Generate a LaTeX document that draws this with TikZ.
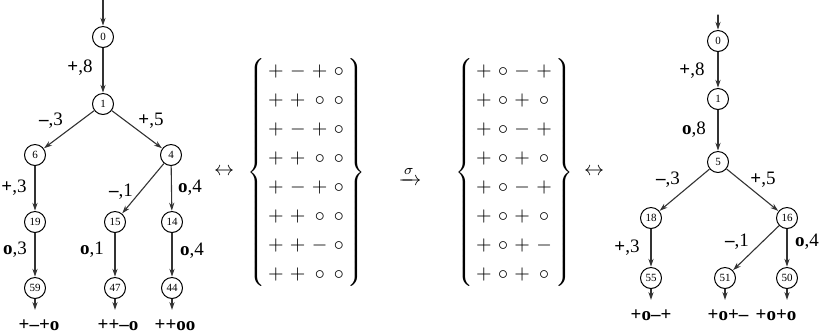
\documentclass[tikz,border=0pt]{standalone}
\usepackage{amsmath,amssymb}
\usepackage{fontspec}
\setmainfont{Liberation Serif}
\usepackage{xcolor}
\usepackage{tikz}
\usetikzlibrary{arrows.meta,positioning}
\definecolor{ink}{HTML}{333333}
\tikzset{
    every picture/.style={line cap=round,line join=round},
    treenode/.style={draw=black,circle,line width=0.5pt,
      minimum size=10.5pt,inner sep=0pt,outer sep=0.4pt,
      font=\fontsize{5.5pt}{6pt}\selectfont},
    flowarrow/.style={-{Stealth[length=4pt,width=2.6pt]},draw=ink,
      line width=0.55pt},
    edgelabel/.style={inner sep=0pt,font=\fontsize{9.5pt}{11pt}\selectfont},
    leaflabel/.style={inner sep=0pt,font=\fontsize{9.5pt}{11pt}\selectfont\bfseries},
    setnode/.style={inner sep=0pt,font=\normalsize}
}
\newcommand{\mns}{\textbf{\textendash}}

\begin{document}
\begin{tikzpicture}[x=0.5pt,y=-0.5pt]
  \useasboundingbox (0,0) rectangle (820,334);
  % left tree
  \coordinate (lin) at (103,0);
  \node[treenode] (l0) at (103,37) {0};
  \node[treenode] (l1) at (103,104) {1};
  \node[treenode] (l6) at (35,155) {6};
  \node[treenode] (l4) at (171,155) {4};
  \node[treenode] (l19) at (35,222) {19};
  \node[treenode] (l15) at (115,222) {15};
  \node[treenode] (l14) at (172,222) {14};
  \node[treenode] (l59) at (35,288) {59};
  \node[treenode] (l47) at (115,288) {47};
  \node[treenode] (l44) at (172,288) {44};
  \coordinate (lout59) at (35,310);
  \coordinate (lout47) at (115,310);
  \coordinate (lout44) at (172,310);
  \draw[flowarrow] (lin)--(l0);
  \draw[flowarrow] (l0)--(l1);
  \draw[flowarrow] (l1)--(l6);
  \draw[flowarrow] (l1)--(l4);
  \draw[flowarrow] (l6)--(l19);
  \draw[flowarrow] (l4)--(l15);
  \draw[flowarrow] (l4)--(l14);
  \draw[flowarrow] (l19)--(l59);
  \draw[flowarrow] (l15)--(l47);
  \draw[flowarrow] (l14)--(l44);
  \draw[flowarrow] (l59)--(lout59);
  \draw[flowarrow] (l47)--(lout47);
  \draw[flowarrow] (l44)--(lout44);
  \node[edgelabel] at (80,68) {\textbf{+},8};
  \node[edgelabel] at (51,121) {\mns,3};
  \node[edgelabel] at (151,121) {\textbf{+},5};
  \node[edgelabel] at (14,188) {\textbf{+},3};
  \node[edgelabel] at (121,192) {\mns,1};
  \node[edgelabel] at (190,188) {\textbf{o},4};
  \node[edgelabel] at (15,250) {\textbf{o},3};
  \node[edgelabel] at (92,250) {\textbf{o},1};
  \node[edgelabel] at (192,251) {\textbf{o},4};
  \node[leaflabel] at (39,325) {+\textendash+o};
  \node[leaflabel] at (118,325) {++\textendash o};
  \node[leaflabel] at (175,325) {++oo};
  % the two sets
  \node[setnode] (lrel) at (224,172) {$\leftrightarrow$};
  \node[setnode] (lset) at (306,172) {\renewcommand{\arraystretch}{1.21}%
    \setlength{\arraycolsep}{1.6pt}%
    $\left\{\begin{array}{cccc}
      + & - & + & \circ\\
      + & + & \circ & \circ\\
      + & - & + & \circ\\
      + & + & \circ & \circ\\
      + & - & + & \circ\\
      + & + & \circ & \circ\\
      + & + & - & \circ\\
      + & + & \circ & \circ
    \end{array}\right\}$};
  \node[setnode] (perm) at (410,176) {$\xrightarrow{\sigma}$};
  \node[setnode] (rset) at (514,172) {\renewcommand{\arraystretch}{1.21}%
    \setlength{\arraycolsep}{1.6pt}%
    $\left\{\begin{array}{cccc}
      + & \circ & - & +\\
      + & \circ & + & \circ\\
      + & \circ & - & +\\
      + & \circ & + & \circ\\
      + & \circ & - & +\\
      + & \circ & + & \circ\\
      + & \circ & + & -\\
      + & \circ & + & \circ
    \end{array}\right\}$};
  \node[setnode] (rrel) at (594,172) {$\leftrightarrow$};
  % right tree
  \coordinate (rin) at (718,15);
  \node[treenode] (r0) at (718,41) {0};
  \node[treenode] (r1) at (718,99) {1};
  \node[treenode] (r5) at (718,162) {5};
  \node[treenode] (r18) at (651,218) {18};
  \node[treenode] (r16) at (787,218) {16};
  \node[treenode] (r55) at (651,278) {55};
  \node[treenode] (r51) at (725,278) {51};
  \node[treenode] (r50) at (787,278) {50};
  \coordinate (rout55) at (651,300);
  \coordinate (rout51) at (725,300);
  \coordinate (rout50) at (787,300);
  \draw[flowarrow] (rin)--(r0);
  \draw[flowarrow] (r0)--(r1);
  \draw[flowarrow] (r1)--(r5);
  \draw[flowarrow] (r5)--(r18);
  \draw[flowarrow] (r5)--(r16);
  \draw[flowarrow] (r18)--(r55);
  \draw[flowarrow] (r16)--(r51);
  \draw[flowarrow] (r16)--(r50);
  \draw[flowarrow] (r55)--(rout55);
  \draw[flowarrow] (r51)--(rout51);
  \draw[flowarrow] (r50)--(rout50);
  \node[edgelabel] at (692,71) {\textbf{+},8};
  \node[edgelabel] at (694,130) {\textbf{o},8};
  \node[edgelabel] at (668,180) {\mns,3};
  \node[edgelabel] at (763,180) {\textbf{+},5};
  \node[edgelabel] at (627,248) {\textbf{+},3};
  \node[edgelabel] at (737,242) {\mns,1};
  \node[edgelabel] at (807,242) {\textbf{o},4};
  \node[leaflabel] at (651,315) {+o\textendash+};
  \node[leaflabel] at (728,315) {+o+\textendash};
  \node[leaflabel] at (776,315) {+o+o};
\end{tikzpicture}
\end{document}
